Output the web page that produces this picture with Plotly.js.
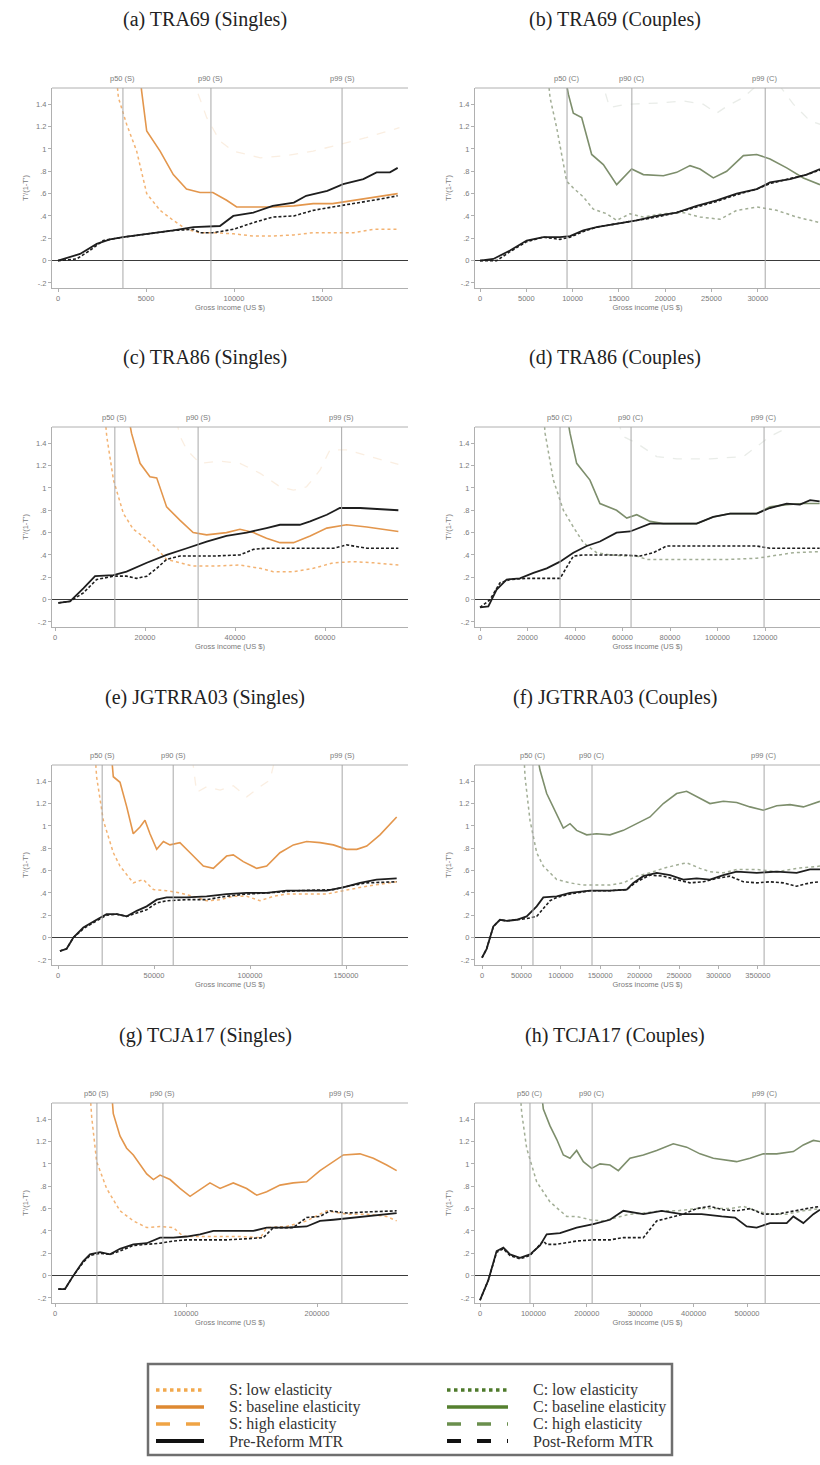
<!DOCTYPE html>
<html><head><meta charset="utf-8">
<script src="https://cdn.plot.ly/plotly-3.0.1.min.js"></script>
<style>html,body{margin:0;padding:0;background:#fff}#chart{width:820px;height:1465px}</style>
</head><body><div id="chart"></div>
<script>
// ===== DATA =====
const panelTitles = ["(a) TRA69 (Singles)","(b) TRA69 (Couples)","(c) TRA86 (Singles)","(d) TRA86 (Couples)",
  "(e) JGTRRA03 (Singles)","(f) JGTRRA03 (Couples)","(g) TCJA17 (Singles)","(h) TCJA17 (Couples)"];
const yTickVals = [-0.2,0,0.2,0.4,0.6,0.8,1,1.2,1.4];
const yTickText = ["-.2","0",".2",".4",".6",".8","1","1.2","1.4"];
const xTicks_a = [0,5000,10000,15000];
const xTicks_b = [0,5000,10000,15000,20000,25000,30000];
const xTicks_c = [0,20000,40000,60000];
const xTicks_d = [0,20000,40000,60000,80000,100000,120000];
const xTicks_e = [0,50000,100000,150000];
const xTicks_f = [0,50000,100000,150000,200000,250000,300000,350000];
const xTicks_g = [0,100000,200000];
const xTicks_h = [0,100000,200000,300000,400000,500000];
const pctLabelsS = ["p50 (S)","p90 (S)","p99 (S)"];
const pctLabelsC = ["p50 (C)","p90 (C)","p99 (C)"];
const pct_a = [3690,8690,16140];
const pct_b = [9400,16400,30800];
const pct_c = [13300,31800,63700];
const pct_d = [33700,63600,119600];
const pct_e = [23000,60000,148000];
const pct_f = [64700,139600,358000];
const pct_g = [32000,82400,219000];
const pct_h = [93600,210000,534000];

// (a) TRA69 Singles
const a_pre_x = [0,1250,2200,2950,3700,5200,6550,7700,8800,9200,9960,11100,12200,13400,14100,15300,16200,17350,18100,18860,19300];
const a_pre_y = [0,0.06,0.15,0.19,0.21,0.24,0.27,0.30,0.31,0.31,0.40,0.43,0.49,0.52,0.58,0.625,0.685,0.73,0.79,0.79,0.83];
const a_post_x = [0,1060,1800,2575,3700,5200,6550,7700,8070,8800,9960,11100,12200,13400,14500,15600,16800,17900,19300];
const a_post_y = [0,0.015,0.09,0.18,0.21,0.24,0.27,0.28,0.25,0.25,0.28,0.34,0.39,0.40,0.45,0.48,0.51,0.54,0.58];
const a_base_x = [4700,4750,5040,5800,6550,7300,8070,8800,9580,10150,11100,12200,13400,14500,15600,16800,17900,19300];
const a_base_y = [1.6,1.52,1.16,0.98,0.77,0.64,0.61,0.61,0.54,0.48,0.48,0.48,0.49,0.51,0.51,0.54,0.57,0.60];
const a_low_x = [3350,3430,3900,4470,5040,5800,6550,7300,8070,8800,9960,11100,12200,13400,14500,15600,16800,17900,19300];
const a_low_y = [1.6,1.46,1.22,0.98,0.60,0.45,0.36,0.28,0.25,0.25,0.24,0.22,0.22,0.23,0.25,0.25,0.25,0.28,0.28];
const a_high_x = [7700,7900,8450,9200,9960,11500,13000,14500,16000,17500,19400];
const a_high_y = [1.65,1.52,1.28,1.07,0.98,0.92,0.94,0.98,1.04,1.10,1.19];

// (b) TRA69 Couples
const b_pre_x = [0,1440,3240,5040,6840,8640,9720,11160,12600,14760,16920,19080,21240,23400,25560,27720,29880,31320,33480,35280,36720];
const b_pre_y = [0,0.015,0.09,0.18,0.21,0.21,0.22,0.27,0.30,0.33,0.36,0.40,0.43,0.49,0.54,0.60,0.64,0.70,0.73,0.77,0.82];
const b_post_x = [0,1800,3240,5040,6840,8640,9720,11160,12600,14760,16920,19080,21240,23400,25560,27720,29880,31320,33480,35280,36720];
const b_post_y = [0,0,0.08,0.17,0.21,0.19,0.21,0.26,0.30,0.33,0.36,0.39,0.43,0.48,0.53,0.59,0.64,0.69,0.73,0.77,0.81];
const b_base_x = [9300,9540,10080,10980,12060,13320,14760,15480,16380,17640,19800,21240,22680,23760,25200,26640,28440,29880,31320,33120,34920,36720];
const b_base_y = [1.6,1.49,1.32,1.28,0.95,0.86,0.68,0.74,0.82,0.77,0.76,0.79,0.85,0.82,0.74,0.80,0.94,0.95,0.91,0.83,0.74,0.68];
const b_low_x = [7400,7560,8280,9360,10080,11160,12240,13680,14760,16200,17640,19800,21960,23760,25920,27720,29880,32040,34200,36720];
const b_low_y = [1.6,1.46,1.19,0.71,0.65,0.57,0.46,0.42,0.36,0.42,0.39,0.42,0.43,0.39,0.37,0.45,0.48,0.45,0.39,0.34];
const b_high_x = [13000,14000,15800,19400,21960,24100,25560,26640,28440,30600,32500,33840,35640,36720];
const b_high_y = [1.65,1.37,1.40,1.41,1.43,1.40,1.32,1.38,1.46,1.62,1.55,1.40,1.25,1.22];

// (c) TRA86 Singles
const c_pre_x = [740,3330,6300,8900,13000,15900,20400,24800,29300,33700,38100,42600,47000,50000,54400,56700,60400,63300,67800,72200,76300];
const c_pre_y = [-0.03,-0.015,0.10,0.21,0.22,0.25,0.33,0.40,0.46,0.52,0.57,0.60,0.64,0.67,0.67,0.70,0.76,0.82,0.82,0.81,0.80];
const c_post_x = [740,3330,6300,9260,13000,15900,18100,20400,22600,24800,27800,30700,35200,41100,44100,47000,54400,61900,64800,69300,76300];
const c_post_y = [-0.03,-0.015,0.06,0.18,0.21,0.21,0.19,0.21,0.28,0.36,0.39,0.39,0.39,0.40,0.45,0.46,0.46,0.46,0.49,0.46,0.46];
const c_base_x = [16500,17000,18900,21100,22600,24800,27800,30700,33700,38100,41100,44100,47000,50000,53000,56700,60400,64800,69300,73000,76300];
const c_base_y = [1.6,1.49,1.22,1.10,1.09,0.83,0.71,0.60,0.58,0.60,0.63,0.60,0.55,0.51,0.51,0.57,0.64,0.67,0.65,0.63,0.61];
const c_low_x = [11200,11500,13000,15200,17400,20400,22600,24800,27800,30700,35200,41100,45600,48500,53000,57400,61900,66300,70700,76300];
const c_low_y = [1.6,1.46,1.07,0.77,0.63,0.54,0.46,0.36,0.33,0.30,0.30,0.31,0.28,0.25,0.25,0.28,0.33,0.34,0.33,0.31];
const c_high_x = [27000,27800,29300,32200,36700,41100,45600,50000,53000,55900,58900,61100,64800,69300,76300];
const c_high_y = [1.6,1.46,1.34,1.22,1.24,1.22,1.13,1.01,0.98,1.01,1.16,1.34,1.34,1.29,1.21];

// (d) TRA86 Couples
const d_pre_x = [0,3500,7000,11200,16800,22500,28100,33700,39300,44900,50500,57500,63200,71600,80000,91200,98200,105300,116500,122100,129100,134700,139000,143000];
const d_pre_y = [-0.07,-0.06,0.09,0.18,0.19,0.24,0.28,0.34,0.42,0.48,0.52,0.60,0.61,0.68,0.68,0.68,0.74,0.77,0.77,0.82,0.86,0.85,0.89,0.88];
const d_post_x = [0,4200,8400,12600,19600,28100,33700,39300,43500,49100,60300,67400,73000,78600,89800,103900,116500,122100,143000];
const d_post_y = [-0.07,0,0.15,0.18,0.19,0.19,0.19,0.39,0.40,0.40,0.40,0.39,0.42,0.48,0.48,0.48,0.48,0.46,0.46];
const d_base_x = [37000,37900,40700,46300,50500,54700,57500,61800,66000,71600,77200,82800,91200,98200,105300,116500,122100,129100,136100,143000];
const d_base_y = [1.6,1.49,1.22,1.07,0.86,0.82,0.80,0.73,0.76,0.70,0.68,0.68,0.68,0.74,0.77,0.77,0.83,0.85,0.86,0.86];
const d_low_x = [27000,27400,30900,35100,39300,43500,49100,54700,60300,66000,70200,77200,91200,105300,116500,122100,132000,143000];
const d_low_y = [1.6,1.49,1.07,0.80,0.65,0.51,0.42,0.40,0.39,0.39,0.36,0.36,0.36,0.36,0.37,0.39,0.42,0.43];
const d_high_x = [58000,60300,66000,74400,82800,96800,110900,116500,122100,127700,130000];
const d_high_y = [1.6,1.46,1.40,1.28,1.26,1.26,1.28,1.37,1.46,1.52,1.6];

// (e) JGTRRA03 Singles
const e_pre_x = [1000,4500,8000,13200,20100,25300,30600,35800,41000,46200,51400,56600,67000,77400,87800,98300,108700,119100,129500,139900,148600,157300,165900,176400];
const e_pre_y = [-0.12,-0.10,0,0.09,0.16,0.21,0.21,0.19,0.24,0.28,0.34,0.36,0.36,0.37,0.39,0.40,0.40,0.42,0.42,0.42,0.45,0.49,0.52,0.53];
const e_post_x = [1000,4500,8000,13200,20100,25300,30600,35800,41000,46200,51400,56600,67000,77400,87800,98300,108700,125000,143400,151000,160800,176400];
const e_post_y = [-0.12,-0.10,0,0.08,0.15,0.20,0.21,0.19,0.22,0.25,0.31,0.33,0.34,0.34,0.37,0.39,0.40,0.42,0.43,0.46,0.49,0.50];
const e_base_x = [28000,28800,32300,35800,39200,42700,45300,47900,51400,54900,58300,63500,68800,75700,80900,87800,91300,96500,103500,108700,115600,122600,129500,136500,143400,150300,155600,160800,167700,176400];
const e_base_y = [1.6,1.44,1.39,1.17,0.93,0.99,1.05,0.93,0.79,0.86,0.83,0.85,0.76,0.64,0.62,0.73,0.74,0.68,0.62,0.64,0.76,0.83,0.86,0.85,0.83,0.79,0.79,0.82,0.92,1.08];
const e_low_x = [19500,20100,23600,28800,32300,39200,44400,49700,56600,63500,70500,77400,84400,91300,98300,105200,112200,119100,129500,139900,148600,160800,176400];
const e_low_y = [1.6,1.44,1.05,0.76,0.64,0.49,0.52,0.43,0.42,0.40,0.37,0.33,0.34,0.37,0.37,0.33,0.37,0.39,0.39,0.39,0.42,0.46,0.50];
const e_high_x = [70000,72200,77400,84400,91300,98300,105200,110400,113000];
const e_high_y = [1.6,1.30,1.35,1.32,1.36,1.26,1.35,1.41,1.6];

// (f) JGTRRA03 Couples
const f_pre_x = [0,5900,14400,22800,31300,44000,56700,69400,77800,94800,111700,137100,162400,183600,192000,204700,221700,238600,255500,272400,289300,306300,323200,348600,374000,399300,416200,428900];
const f_pre_y = [-0.18,-0.10,0.10,0.16,0.15,0.16,0.19,0.28,0.36,0.37,0.40,0.42,0.42,0.43,0.49,0.55,0.58,0.56,0.52,0.53,0.52,0.56,0.59,0.58,0.59,0.58,0.61,0.61];
const f_post_x = [0,5900,14400,22800,31300,44000,56700,69400,86300,94800,111700,137100,162400,183600,196300,213200,230100,247000,263900,280900,297800,314700,331600,348600,365500,382400,399300,416200,428900];
const f_post_y = [-0.18,-0.10,0.10,0.16,0.15,0.16,0.17,0.19,0.33,0.36,0.39,0.42,0.42,0.43,0.50,0.56,0.55,0.52,0.49,0.50,0.53,0.55,0.50,0.49,0.50,0.49,0.46,0.49,0.50];
const f_base_x = [71000,73600,82100,94800,103200,111700,120100,132800,145500,162400,179400,196300,213200,230100,247000,259700,272400,289300,306300,323200,340100,357000,374000,390900,407800,428900];
const f_base_y = [1.6,1.50,1.29,1.11,0.98,1.02,0.96,0.92,0.93,0.92,0.96,1.02,1.08,1.20,1.29,1.31,1.26,1.20,1.22,1.21,1.17,1.14,1.18,1.19,1.17,1.22];
const f_low_x = [53500,54600,60900,69400,77800,94800,111700,128600,145500,162400,179400,196300,213200,230100,247000,259700,276600,289300,306300,323200,348600,374000,399300,428900];
const f_low_y = [1.6,1.44,1.05,0.76,0.64,0.52,0.49,0.47,0.47,0.47,0.49,0.55,0.58,0.62,0.65,0.67,0.62,0.59,0.58,0.61,0.61,0.59,0.62,0.64];

// (g) TCJA17 Singles
const g_pre_x = [2500,7600,14000,21600,26700,34400,42000,49600,59800,70000,80200,90300,100500,110700,120900,136100,151400,161600,176800,192100,202300,212500,227700,237900,253200,260800];
const g_pre_y = [-0.12,-0.12,0,0.13,0.19,0.21,0.19,0.24,0.28,0.29,0.34,0.34,0.35,0.37,0.40,0.40,0.40,0.43,0.43,0.44,0.49,0.50,0.52,0.53,0.55,0.56];
const g_post_x = [2500,7600,14000,21600,26700,34400,42000,49600,59800,70000,80200,90300,100500,115800,131000,146300,159000,166700,181900,192100,202300,209900,222600,237900,253200,260800];
const g_post_y = [-0.12,-0.12,0,0.12,0.18,0.20,0.19,0.22,0.27,0.28,0.29,0.31,0.32,0.32,0.32,0.33,0.34,0.43,0.43,0.52,0.53,0.58,0.56,0.57,0.58,0.58];
const g_base_x = [43500,44500,49600,54700,59800,64900,70000,75100,80200,87800,95400,103100,110700,118300,126000,136100,146300,154000,161600,171800,181900,192100,202300,212500,220100,232800,243000,253200,260800];
const g_base_y = [1.6,1.45,1.25,1.14,1.08,0.99,0.91,0.86,0.90,0.86,0.78,0.71,0.77,0.83,0.78,0.83,0.78,0.72,0.75,0.81,0.83,0.84,0.94,1.02,1.08,1.09,1.05,0.99,0.94];
const g_low_x = [27000,28000,31800,39400,49600,59800,70000,80200,90300,98000,110700,126000,141200,156900,161600,176800,192100,207300,222600,237900,253200,260800];
const g_low_y = [1.6,1.42,1.02,0.78,0.58,0.49,0.43,0.44,0.43,0.35,0.35,0.35,0.35,0.34,0.43,0.44,0.49,0.58,0.55,0.55,0.53,0.49];

// (h) TCJA17 Couples
const h_pre_x = [0,15600,31200,43700,56200,74900,93600,112400,124800,149800,181000,212200,243400,268400,305900,340200,377700,415100,452600,477500,499400,518100,543100,574300,586800,605500,624200,636700];
const h_pre_y = [-0.22,-0.04,0.22,0.25,0.19,0.16,0.19,0.27,0.37,0.38,0.43,0.46,0.50,0.58,0.55,0.58,0.55,0.55,0.53,0.52,0.44,0.43,0.47,0.47,0.53,0.47,0.55,0.59];
const h_post_x = [0,15600,31200,43700,56200,74900,93600,118600,124800,143600,181000,212200,243400,268400,305900,330800,355800,380800,405700,430700,455700,480600,505600,530600,555600,586800,611700,636700];
const h_post_y = [-0.22,-0.04,0.21,0.24,0.18,0.15,0.18,0.31,0.28,0.28,0.31,0.32,0.32,0.34,0.34,0.49,0.52,0.55,0.60,0.62,0.59,0.58,0.60,0.55,0.55,0.58,0.60,0.62];
const h_base_x = [116000,118600,131100,143600,156100,168500,181000,193500,209100,224700,243400,259100,280900,305900,330800,362000,387000,412000,436900,461900,480600,505600,530600,555600,586800,605500,624200,636700];
const h_base_y = [1.6,1.49,1.34,1.22,1.08,1.05,1.12,1.02,0.96,1.00,0.99,0.94,1.05,1.08,1.12,1.18,1.15,1.09,1.05,1.03,1.02,1.05,1.09,1.09,1.11,1.17,1.21,1.20];
const h_low_x = [76000,78000,87400,106100,131100,149800,162300,181000,206000,231000,255900,280900,305900,340200,368300,405700,430700,468200,493100,518100,543100,574300,605500,636700];
const h_low_y = [1.6,1.46,1.14,0.84,0.66,0.58,0.53,0.53,0.50,0.49,0.52,0.55,0.56,0.58,0.58,0.60,0.60,0.60,0.62,0.58,0.55,0.55,0.58,0.60];

const legendLabelsS = ["S: low elasticity","S: baseline elasticity","S: high elasticity","Pre-Reform MTR"];
const legendLabelsC = ["C: low elasticity","C: baseline elasticity","C: high elasticity","Post-Reform MTR"];

// ===== LAYOUT / STYLE =====
const W = 820, H = 1465;
const px = v => v / W, py = v => 1 - v / H;
const colX = [[52, 408], [475, 820]];
const rowY = [[88, 288], [427, 627], [765, 965], [1103, 1303]];
const titleY = [20, 358, 697, 1035];
const xScale = [[58, 0.0176], [480, 0.00926], [55, 0.0045], [480, 0.002375], [58, 0.00192], [482, 0.000788], [55, 0.00131], [480, 0.000534]];

const sty = {
  S: {low: {color: '#F3B373', width: 1.5, dash: 'dot'}, base: {color: '#E3964C', width: 1.6},
      high: {color: 'rgba(225,150,70,0.16)', width: 1.3, dash: 'dash'}},
  C: {low: {color: '#A2AE96', width: 1.5, dash: 'dot'}, base: {color: '#7D8E6C', width: 1.6},
      high: {color: 'rgba(120,135,110,0.16)', width: 1.3, dash: 'dash'}},
  pre: {color: '#1e1e1e', width: 1.8},
  post: {color: '#1e1e1e', width: 1.6, dash: '3px,2px'}
};

const panels = [
  {g: 'S', ticks: xTicks_a, pct: pct_a, pre: [a_pre_x, a_pre_y], post: [a_post_x, a_post_y], base: [a_base_x, a_base_y], low: [a_low_x, a_low_y], high: [a_high_x, a_high_y]},
  {g: 'C', ticks: xTicks_b, pct: pct_b, pre: [b_pre_x, b_pre_y], post: [b_post_x, b_post_y], base: [b_base_x, b_base_y], low: [b_low_x, b_low_y], high: [b_high_x, b_high_y]},
  {g: 'S', ticks: xTicks_c, pct: pct_c, pre: [c_pre_x, c_pre_y], post: [c_post_x, c_post_y], base: [c_base_x, c_base_y], low: [c_low_x, c_low_y], high: [c_high_x, c_high_y]},
  {g: 'C', ticks: xTicks_d, pct: pct_d, pre: [d_pre_x, d_pre_y], post: [d_post_x, d_post_y], base: [d_base_x, d_base_y], low: [d_low_x, d_low_y], high: [d_high_x, d_high_y]},
  {g: 'S', ticks: xTicks_e, pct: pct_e, pre: [e_pre_x, e_pre_y], post: [e_post_x, e_post_y], base: [e_base_x, e_base_y], low: [e_low_x, e_low_y], high: [e_high_x, e_high_y]},
  {g: 'C', ticks: xTicks_f, pct: pct_f, pre: [f_pre_x, f_pre_y], post: [f_post_x, f_post_y], base: [f_base_x, f_base_y], low: [f_low_x, f_low_y], high: null},
  {g: 'S', ticks: xTicks_g, pct: pct_g, pre: [g_pre_x, g_pre_y], post: [g_post_x, g_post_y], base: [g_base_x, g_base_y], low: [g_low_x, g_low_y], high: null},
  {g: 'C', ticks: xTicks_h, pct: pct_h, pre: [h_pre_x, h_pre_y], post: [h_post_x, h_post_y], base: [h_base_x, h_base_y], low: [h_low_x, h_low_y], high: null}
];

const tickFont = {family: 'Liberation Sans, Arial, sans-serif', size: 7.5, color: '#7a7a7a'};
const traces = [], shapes = [], annotations = [];
const layout = {
  width: W, height: H, margin: {l: 0, r: 0, t: 0, b: 0},
  paper_bgcolor: '#fff', plot_bgcolor: '#fff', showlegend: false,
  font: {family: 'Liberation Sans, Arial, sans-serif'}
};

panels.forEach((p, i) => {
  const n = i + 1, col = i % 2, row = Math.floor(i / 2);
  const xa = n === 1 ? 'x' : 'x' + n, ya = n === 1 ? 'y' : 'y' + n;
  const [l, r] = colX[col], [t, b] = rowY[row];
  const [x0px, k] = xScale[i];
  layout[n === 1 ? 'xaxis' : 'xaxis' + n] = {
    domain: [px(l), px(r)], anchor: ya, range: [(l - x0px) / k, (r - x0px) / k],
    tickmode: 'array', tickvals: p.ticks, ticktext: p.ticks.map(String),
    showgrid: false, zeroline: false, showline: true, linecolor: '#b0b0b0', linewidth: 1,
    ticks: 'outside', ticklen: 3, tickcolor: '#b0b0b0', tickfont: tickFont,
    title: {text: 'Gross income (US $)', font: tickFont, standoff: 1}
  };
  layout[n === 1 ? 'yaxis' : 'yaxis' + n] = {
    domain: [py(b), py(t)], anchor: xa, range: [-0.245, 1.545],
    tickmode: 'array', tickvals: yTickVals, ticktext: yTickText,
    showgrid: false, zeroline: true, zerolinecolor: '#3a3a3a', zerolinewidth: 1.2,
    showline: true, linecolor: '#b0b0b0', linewidth: 1,
    ticks: 'outside', ticklen: 3, tickcolor: '#b0b0b0', tickfont: tickFont,
    title: {text: "T'/(1-T')", font: tickFont, standoff: 6}
  };
  const st = sty[p.g];
  const add = (d, line) => { if (d) traces.push({type: 'scatter', mode: 'lines', x: d[0], y: d[1], xaxis: xa, yaxis: ya, line: line, hoverinfo: 'skip'}); };
  add(p.high, st.high);
  add(p.low, st.low);
  add(p.base, st.base);
  add(p.post, sty.post);
  add(p.pre, sty.pre);
  shapes.push({type: 'line', xref: xa + ' domain', yref: ya + ' domain', x0: 0, x1: 1, y0: 1, y1: 1, line: {color: '#b0b0b0', width: 1}});
  const labs = p.g === 'S' ? pctLabelsS : pctLabelsC;
  p.pct.forEach((v, j) => {
    shapes.push({type: 'line', xref: xa, yref: ya + ' domain', x0: v, x1: v, y0: 0, y1: 1, line: {color: '#a8a8a8', width: 1}});
    annotations.push({xref: xa, yref: ya + ' domain', x: v, y: 1, yanchor: 'bottom', yshift: 3, showarrow: false,
      text: labs[j], font: {family: 'Liberation Sans, Arial, sans-serif', size: 7.5, color: '#7a7a7a'}});
  });
  annotations.push({xref: 'paper', yref: 'paper', x: px(col === 0 ? 205 : 615), y: py(titleY[row]), xanchor: 'center', yanchor: 'middle',
    showarrow: false, text: panelTitles[i], font: {family: 'Liberation Serif, Times New Roman, serif', size: 20, color: '#222'}});
});

// ===== LEGEND =====
shapes.push({type: 'rect', xref: 'paper', yref: 'paper', x0: px(148), x1: px(672), y0: py(1455), y1: py(1364), line: {color: '#6f6f6f', width: 2.5}, fillcolor: 'rgba(0,0,0,0)'});
const legRows = [1390, 1407, 1424, 1441];
const legStylesS = [
  {color: '#F2A94E', width: 3.5, dash: 'dot'}, {color: '#DE8932', width: 3.5}, {color: '#EFA445', width: 3.5, dash: '14px,16px'}, {color: '#111', width: 4}];
const legStylesC = [
  {color: '#4E7A2B', width: 3.5, dash: 'dot'}, {color: '#55802F', width: 3.5}, {color: '#6A8F4D', width: 3.5, dash: '14px,16px'}, {color: '#111', width: 4, dash: '14px,16px'}];
legRows.forEach((yy, j) => {
  shapes.push({type: 'line', xref: 'paper', yref: 'paper', x0: px(156), x1: px(204), y0: py(yy), y1: py(yy), line: legStylesS[j]});
  shapes.push({type: 'line', xref: 'paper', yref: 'paper', x0: px(447), x1: px(508), y0: py(yy), y1: py(yy), line: legStylesC[j]});
  annotations.push({xref: 'paper', yref: 'paper', x: px(227), y: py(yy), xanchor: 'left', yanchor: 'middle', showarrow: false,
    text: legendLabelsS[j], font: {family: 'Liberation Serif, Times New Roman, serif', size: 16, color: '#333'}});
  annotations.push({xref: 'paper', yref: 'paper', x: px(531), y: py(yy), xanchor: 'left', yanchor: 'middle', showarrow: false,
    text: legendLabelsC[j], font: {family: 'Liberation Serif, Times New Roman, serif', size: 16, color: '#333'}});
});

layout.shapes = shapes;
layout.annotations = annotations;
Plotly.newPlot('chart', traces, layout, {staticPlot: true, displayModeBar: false});
</script>
</body></html>
